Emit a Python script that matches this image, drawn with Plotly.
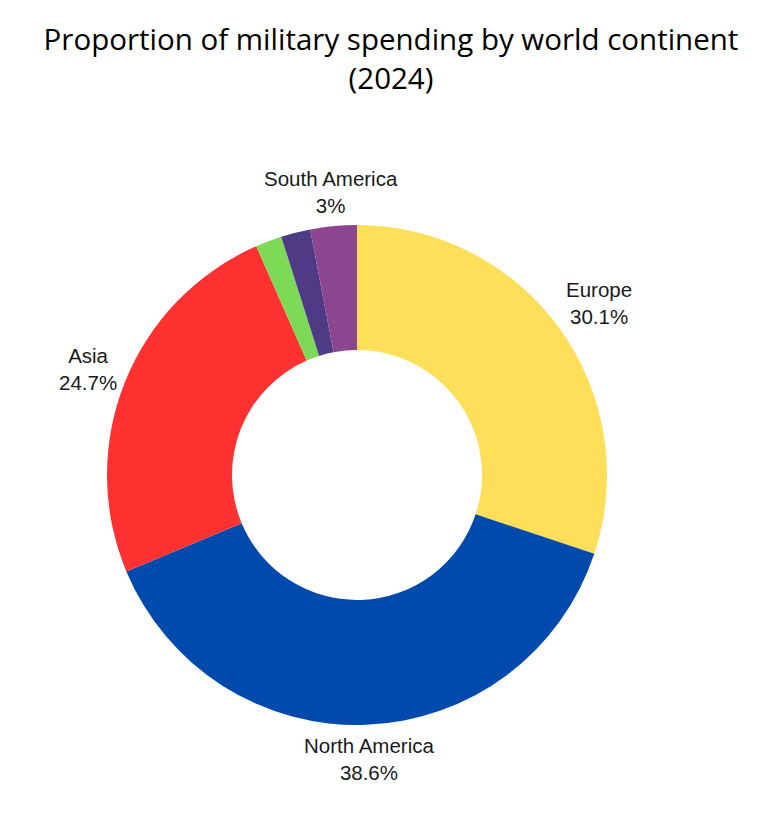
import math
import plotly.graph_objects as go

continents = ["Europe", "North America", "Asia", "Africa", "Oceania", "South America"]
shares = [30.1, 38.6, 24.7, 1.7, 1.9, 3.0]
shown = [True, True, True, False, False, True]
colors = ["#FFDE59", "#004AAD", "#FF3131", "#7ED957", "#4F3A86", "#8C4690"]

W, H = 766, 816
cx, cy, r = 349, 467, 250          # pie domain geometry (pixels)
lcx, lcy = 350, 469                 # label reference centre (pixels)
FONT = 20.5

fig = go.Figure(go.Pie(
    labels=continents,
    values=shares,
    textinfo="none",
    hole=0.5,
    sort=False,
    direction="clockwise",
    rotation=0,
    marker=dict(colors=colors, line=dict(width=0)),
    showlegend=False,
    domain=dict(x=[(cx - r) / W, (cx + r) / W], y=[(H - cy - r) / H, (H - cy + r) / H]),
))

# outside labels, centred on each slice's mid-angle
total = sum(shares)
cum = 0.0
for name, v, s in zip(continents, shares, shown):
    mid = (cum + v / 2) / total * 2 * math.pi
    cum += v
    if not s:
        continue
    txt = f"{name}<br>{v:g}%"
    hw = 0.56 * FONT * max(len(name), len(f"{v:g}%")) / 2
    hh = 23
    dist = r + 6 + hw * abs(math.sin(mid)) + hh * abs(math.cos(mid))
    px = lcx + dist * math.sin(mid)
    py = lcy - dist * math.cos(mid)
    fig.add_annotation(
        x=px / W, y=1 - py / H, xref="paper", yref="paper",
        text=txt, showarrow=False, xanchor="center", yanchor="middle",
        align="center",
        font=dict(family="Liberation Sans, Arial, sans-serif", size=FONT, color="#1a1a1a"),
    )

fig.update_layout(
    width=W, height=H,
    paper_bgcolor="white",
    title=dict(
        text="Proportion of military spending by world continent<br>(2024)",
        x=0.5, xanchor="center", y=0.948, yanchor="top",
        font=dict(family="Open Sans, sans-serif", size=29.5, color="#000000"),
    ),
    margin=dict(l=0, r=0, t=0, b=0),
)

fig.write_html("out.html")
